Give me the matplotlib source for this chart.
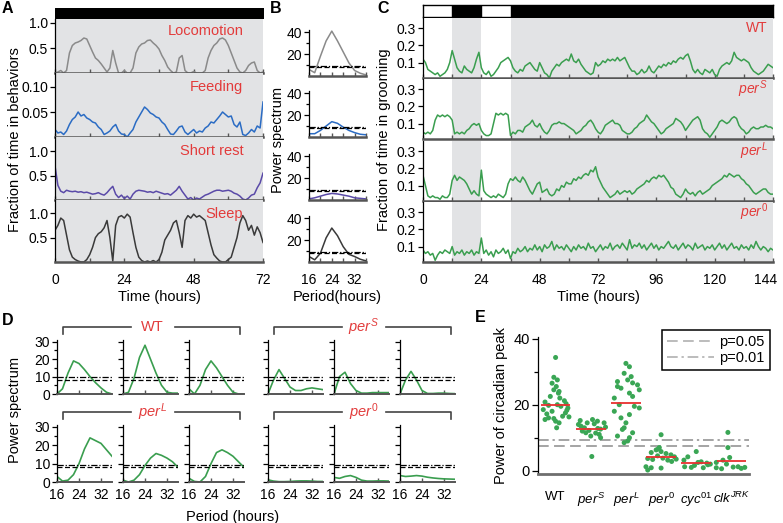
import numpy as np
import matplotlib
matplotlib.use("Agg")
import matplotlib.pyplot as plt
import matplotlib.transforms as mtransforms
from matplotlib.lines import Line2D

# ---------------- data ----------------
# panel A: fraction of time in each behaviour, hourly, 0-72 h
hours_a = np.arange(73)
locomotion = [0.0, 0.02, 0.05, 0.0, 0.05, 0.4, 0.55, 0.6, 0.62, 0.65, 0.7, 0.68,
              0.55, 0.42, 0.3, 0.25, 0.18, 0.1, 0.02, 0.1, 0.45, 0.2, 0.0, 0.0,
              0.05, 0.0, 0.0, 0.1, 0.4, 0.52, 0.58, 0.6, 0.65, 0.66, 0.6, 0.55,
              0.48, 0.35, 0.25, 0.12, 0.05, 0.0, 0.02, 0.3, 0.35, 0.05, 0.0, 0.0,
              0.03, 0.0, 0.0, 0.0, 0.05, 0.3, 0.45, 0.55, 0.6, 0.68, 0.7, 0.66,
              0.55, 0.4, 0.25, 0.1, 0.02, 0.0, 0.05, 0.15, 0.2, 0.22, 0.05, 0.0,
              0.02]
feeding = [0.015, 0.008, 0.01, 0.005, 0.012, 0.025, 0.035, 0.04, 0.05, 0.042, 0.045, 0.038,
           0.035, 0.03, 0.028, 0.02, 0.015, 0.005, 0.008, 0.012, 0.02, 0.025, 0.012, 0.006,
           0.005, 0.0, 0.008, 0.015, 0.03, 0.04, 0.05, 0.06, 0.055, 0.048, 0.045, 0.04,
           0.038, 0.03, 0.025, 0.015, 0.006, 0.005, 0.012, 0.02, 0.022, 0.01, 0.005, 0.01,
           0.015, 0.008, 0.012, 0.01, 0.018, 0.022, 0.03, 0.028, 0.035, 0.042, 0.05, 0.045,
           0.04, 0.042, 0.025, 0.02, 0.03, 0.005, 0.003, 0.008, 0.015, 0.01, 0.022, 0.018,
           0.07]
short_rest = [0.7, 0.3, 0.18, 0.15, 0.2, 0.18, 0.17, 0.18, 0.16, 0.17, 0.15, 0.16,
              0.14, 0.12, 0.13, 0.15, 0.12, 0.1, 0.15, 0.22, 0.28, 0.12, 0.05, 0.1,
              0.03, 0.08, 0.02, 0.12, 0.18, 0.2, 0.19, 0.18, 0.16, 0.17, 0.15, 0.18,
              0.16, 0.14, 0.12, 0.13, 0.1, 0.15, 0.2, 0.28, 0.18, 0.1, 0.02, 0.05,
              0.0, 0.04, 0.02, 0.06, 0.1, 0.12, 0.15, 0.18, 0.2, 0.2, 0.18, 0.19,
              0.2, 0.18, 0.14, 0.12, 0.08, 0.02, 0.0, 0.04, 0.1, 0.12, 0.25, 0.35,
              0.55]
sleep = [0.65, 0.75, 0.9, 0.85, 0.55, 0.25, 0.1, 0.05, 0.02, 0.0, 0.0, 0.05,
         0.15, 0.3, 0.5, 0.58, 0.62, 0.7, 0.85, 0.5, 0.02, 0.75, 0.92, 0.95,
         0.9, 0.98, 0.92, 0.6, 0.3, 0.1, 0.03, 0.0, 0.02, 0.0, 0.03, 0.0,
         0.05, 0.2, 0.45, 0.55, 0.65, 0.8, 0.85, 0.6, 0.3, 0.85, 0.95, 0.9,
         0.98, 0.92, 0.95, 0.9, 0.85, 0.6, 0.35, 0.15, 0.08, 0.02, 0.0, 0.0,
         0.05, 0.1, 0.3, 0.5, 0.8, 0.95, 0.85, 0.65, 0.75, 0.55, 0.72, 0.6,
         0.4]

# panel B: power spectra of the four behaviours
period = [16, 18, 20, 22, 24, 26, 28, 30, 32, 34, 36]
spec_loco = [6, 3, 18, 32, 41, 32, 22, 12, 5, 2.5, 1]
spec_feed = [3, 3, 6, 10, 14, 12.5, 9, 6, 4, 2.5, 2]
spec_rest = [1, 2, 3.5, 5, 6, 5.5, 4.5, 3.5, 2, 1.5, 1]
spec_sleep = [5, 2, 8, 22, 31, 24, 14, 7, 5, 2.5, 1]

# panel C: fraction of time grooming, hourly, 0-144 h
hours_c = np.arange(145)
groom_wt = [0.12, 0.10, 0.06, 0.05, 0.04, 0.03, 0.04, 0.02, 0.03, 0.04, 0.06, 0.10,
            0.17, 0.12, 0.07, 0.05, 0.04, 0.08, 0.06, 0.05, 0.04, 0.07, 0.12, 0.16,
            0.07, 0.04, 0.03, 0.05, 0.02, 0.03, 0.05, 0.07, 0.10, 0.11, 0.12, 0.13,
            0.11, 0.07, 0.05, 0.04, 0.06, 0.05, 0.08, 0.09, 0.10, 0.08, 0.06, 0.05,
            0.10, 0.07, 0.04, 0.03, 0.01, 0.05, 0.07, 0.09, 0.08, 0.10, 0.11, 0.12,
            0.11, 0.15, 0.11, 0.10, 0.12, 0.09, 0.07, 0.05, 0.04, 0.03, 0.04, 0.10,
            0.08, 0.09, 0.11, 0.10, 0.12, 0.11, 0.12, 0.11, 0.13, 0.11, 0.12, 0.13,
            0.10, 0.07, 0.05, 0.05, 0.03, 0.04, 0.06, 0.04, 0.05, 0.08, 0.05, 0.04,
            0.06, 0.08, 0.07, 0.09, 0.08, 0.10, 0.09, 0.11, 0.10, 0.12, 0.13, 0.12,
            0.14, 0.15, 0.11, 0.06, 0.04, 0.06, 0.04, 0.03, 0.06, 0.05, 0.04, 0.06,
            0.03, 0.02, 0.06, 0.08, 0.09, 0.10, 0.09, 0.11, 0.16, 0.13, 0.12, 0.11,
            0.12, 0.11, 0.10, 0.07, 0.05, 0.04, 0.03, 0.04, 0.05, 0.07, 0.09, 0.08,
            0.07]
groom_pers = [0.05, 0.04, 0.05, 0.04, 0.06, 0.12, 0.15, 0.14, 0.15, 0.14, 0.15, 0.14,
              0.12, 0.04, 0.05, 0.04, 0.05, 0.04, 0.06, 0.07, 0.09, 0.10, 0.09, 0.10,
              0.06, 0.04, 0.03, 0.03, 0.04, 0.10, 0.16, 0.15, 0.16, 0.15, 0.16, 0.15,
              0.03, 0.05, 0.04, 0.06, 0.06, 0.05, 0.08, 0.09, 0.10, 0.12, 0.09, 0.08,
              0.10, 0.07, 0.05, 0.04, 0.06, 0.09, 0.10, 0.10, 0.11, 0.10, 0.10, 0.09,
              0.08, 0.07, 0.06, 0.04, 0.05, 0.06, 0.08, 0.09, 0.11, 0.12, 0.10, 0.07,
              0.05, 0.04, 0.06, 0.09, 0.10, 0.11, 0.12, 0.10, 0.10, 0.09, 0.06, 0.05,
              0.04, 0.04, 0.05, 0.07, 0.08, 0.10, 0.11, 0.12, 0.15, 0.13, 0.11, 0.10,
              0.08, 0.06, 0.04, 0.05, 0.07, 0.08, 0.09, 0.10, 0.13, 0.12, 0.11, 0.09,
              0.06, 0.08, 0.10, 0.12, 0.13, 0.14, 0.12, 0.07, 0.05, 0.04, 0.02, 0.04,
              0.06, 0.08, 0.11, 0.12, 0.11, 0.10, 0.11, 0.13, 0.14, 0.13, 0.09, 0.07,
              0.06, 0.04, 0.05, 0.07, 0.08, 0.07, 0.07, 0.08, 0.08, 0.09, 0.08, 0.08,
              0.07]
groom_perl = [0.16, 0.10, 0.04, 0.03, 0.04, 0.03, 0.03, 0.02, 0.04, 0.03, 0.03, 0.05,
              0.13, 0.16, 0.13, 0.15, 0.14, 0.13, 0.11, 0.08, 0.05, 0.07, 0.05, 0.04,
              0.19, 0.07, 0.05, 0.04, 0.03, 0.04, 0.03, 0.05, 0.04, 0.03, 0.05, 0.11,
              0.14, 0.13, 0.15, 0.13, 0.12, 0.15, 0.13, 0.10, 0.07, 0.05, 0.08, 0.11,
              0.12, 0.06, 0.07, 0.08, 0.05, 0.04, 0.05, 0.08, 0.07, 0.10, 0.09, 0.12,
              0.11, 0.11, 0.14, 0.13, 0.15, 0.14, 0.16, 0.17, 0.16, 0.19, 0.18, 0.21,
              0.15, 0.12, 0.09, 0.07, 0.05, 0.03, 0.04, 0.05, 0.07, 0.05, 0.06, 0.07,
              0.06, 0.07, 0.05, 0.06, 0.08, 0.09, 0.10, 0.11, 0.13, 0.12, 0.14, 0.15,
              0.14, 0.16, 0.15, 0.16, 0.14, 0.12, 0.09, 0.08, 0.05, 0.04, 0.03, 0.05,
              0.08, 0.06, 0.05, 0.06, 0.04, 0.06, 0.07, 0.05, 0.06, 0.07, 0.08, 0.10,
              0.11, 0.12, 0.13, 0.14, 0.16, 0.15, 0.17, 0.16, 0.15, 0.16, 0.16, 0.14,
              0.13, 0.11, 0.10, 0.08, 0.06, 0.05, 0.06, 0.07, 0.08, 0.08, 0.06, 0.05,
              0.05]
groom_per0 = [0.08, 0.06, 0.07, 0.05, 0.06, 0.02, 0.05, 0.07, 0.06, 0.08, 0.07, 0.06,
              0.10, 0.05, 0.07, 0.06, 0.08, 0.05, 0.07, 0.06, 0.08, 0.05, 0.07, 0.06,
              0.15, 0.06, 0.08, 0.05, 0.07, 0.04, 0.08, 0.06, 0.07, 0.09, 0.06, 0.08,
              0.03, 0.07, 0.06, 0.09, 0.07, 0.08, 0.10, 0.07, 0.09, 0.08, 0.11, 0.08,
              0.10, 0.07, 0.11, 0.09, 0.10, 0.13, 0.08, 0.11, 0.09, 0.10, 0.08, 0.11,
              0.09, 0.07, 0.10, 0.08, 0.11, 0.09, 0.10, 0.08, 0.12, 0.09, 0.10, 0.07,
              0.09, 0.11, 0.08, 0.10, 0.09, 0.12, 0.08, 0.10, 0.11, 0.09, 0.12, 0.10,
              0.08, 0.14, 0.09, 0.11, 0.10, 0.12, 0.09, 0.11, 0.08, 0.10, 0.12, 0.09,
              0.11, 0.08, 0.10, 0.09, 0.11, 0.13, 0.10, 0.09, 0.11, 0.08, 0.10, 0.12,
              0.09, 0.11, 0.10, 0.08, 0.12, 0.09, 0.10, 0.11, 0.08, 0.10, 0.09, 0.11,
              0.08, 0.10, 0.12, 0.09, 0.11, 0.08, 0.10, 0.12, 0.09, 0.10, 0.08, 0.11,
              0.09, 0.10, 0.08, 0.11, 0.09, 0.13, 0.10, 0.08, 0.10, 0.09, 0.07, 0.09,
              0.08]
dark_spans_c = [(12, 24), (36, 144)]

# panel D: grooming power spectra of single flies
spec_wt = [[0, 3, 12, 19, 17.5, 14, 10, 6.5, 3.5, 1, 0],
           [0, 1, 9, 21, 28, 20, 12, 5, 1, 0.5, 0.5],
           [3, 0, 5, 14, 19, 15, 10, 5, 1, 0, 0]]
spec_pers = [[0, 8, 14, 9, 4, 2, 2, 3, 3.5, 3, 2.5],
             [0, 10, 12.5, 6, 2, 0.5, 0.5, 0.8, 0.8, 0.8, 0.8],
             [0, 8, 13, 8, 2, 0.3, 0.3, 0.5, 0.5, 0.3, 0.2]]
spec_perl = [[3, 0.5, 1, 4, 10, 18, 24, 22.5, 21, 17.5, 14],
             [1, 0, 1, 4, 9, 13, 15.5, 14.5, 13, 11, 8],
             [2, 0.3, 0, 3, 10, 16, 17.5, 16, 14, 11, 8]]
spec_per0 = [[1.2, 0.5, 0.2, 0.2, 0.3, 0.5, 0.6, 0.6, 0.5, 0.3, 0.3],
             [2.5, 2, 3, 3.5, 2.5, 1, 0.5, 0.5, 0.6, 0.6, 0.5],
             [3.5, 3, 3.2, 3.5, 3.2, 2.6, 2.2, 1.9, 1.7, 1.6, 1.5]]
sig_01 = 9.5
sig_05 = 8.0

# panel E: power of circadian peak per fly
genotypes = ['WT', r'$per^{S}$', r'$per^{L}$', r'$per^{\mathit{0}}$',
             r'$cyc^{\mathit{01}}$', r'$clk^{JRK}$']
e_wt = [34.3, 28.3, 27.5, 26.5, 25.5, 24.5, 23.5, 22.5, 22.0, 21.2, 20.8, 20.3, 20.0,
        19.8, 19.5, 19.0, 18.5, 18.0, 17.5, 17.2, 16.5, 16.0, 15.8, 15.5, 15.0, 14.5,
        16.3, 18.3, 13.0, 24.0]
e_wt_dx = [0.0, -0.05, 0.05, -0.1, 0.02, -0.05, 0.08, -0.15, 0.12, 0.25, -0.3, 0.3, 0.05,
           -0.2, 0.15, 0.35, -0.35, -0.1, 0.28, -0.25, 0.2, -0.2, -0.05, -0.3, 0.0, 0.1,
           0.38, 0.32, 0.03, 0.1]
e_pers = [15.2, 14.0, 13.5, 14.5, 15.5, 14.2, 15.0, 14.5, 13.2, 12.0, 11.5, 12.2, 11.4,
          11.0, 12.6, 10.5, 10.0, 13.0, 12.8, 4.3]
e_pers_dx = [-0.3, -0.35, -0.28, -0.1, 0.05, 0.1, 0.19, 0.38, 0.42, -0.24, -0.14, -0.05,
             0.14, 0.24, 0.28, 0.0, 0.28, -0.18, 0.2, 0.03]
e_perl = [32.5, 31.5, 29.5, 28.5, 27.5, 27.0, 26.6, 26.0, 25.5, 25.0, 24.5, 23.5, 22.5,
          22.0, 20.0, 19.5, 19.0, 18.0, 17.0, 16.0, 14.5, 13.0, 12.5, 11.5, 10.5, 10.0,
          9.0, 8.5]
e_perl_dx = [0.0, 0.1, -0.05, 0.15, 0.05, -0.24, 0.19, 0.33, -0.24, -0.14, 0.38, 0.1, 0.19,
             -0.33, -0.19, 0.24, 0.38, -0.33, 0.1, -0.14, 0.0, -0.05, -0.1, 0.19, -0.24,
             0.1, 0.05, -0.05]
e_per0 = [10.9, 7.0, 6.3, 5.8, 5.5, 5.2, 4.8, 4.2, 3.7, 3.4, 3.8, 3.2, 3.5, 2.8, 1.2, 0.9,
          0.8, 0.2, 4.5, 6.6]
e_per0_dx = [0.0, -0.05, -0.14, 0.0, -0.28, 0.14, 0.28, 0.38, -0.38, -0.24, 0.05, 0.19,
             0.43, 0.3, -0.43, -0.28, 0.0, -0.38, -0.1, -0.08]
e_cyc = [5.8, 4.2, 3.2, 2.7, 2.3, 2.0, 1.6, 1.2, 1.0, 0.9, 1.8, 2.5]
e_cyc_dx = [0.0, -0.24, -0.35, 0.14, 0.3, 0.4, -0.05, -0.33, -0.14, 0.2, 0.33, 0.05]
e_clk = [11.6, 7.0, 4.0, 3.2, 2.5, 0.9, 0.6, 1.1, 1.2, 0.7, 1.0, 2.0]
e_clk_dx = [-0.1, -0.1, -0.05, -0.24, -0.43, -0.43, -0.28, 0.05, 0.19, 0.28, 0.38, -0.14]
e_median = [20.0, 12.5, 20.5, 4.0, 2.2, 2.8]
e_sig_05 = 7.4
e_sig_01 = 9.3

# ---------------- style ----------------
plt.rcParams['font.family'] = ['Liberation Sans', 'DejaVu Sans']
plt.rcParams['mathtext.fontset'] = 'custom'
plt.rcParams['mathtext.rm'] = 'Liberation Sans'
plt.rcParams['mathtext.it'] = 'Liberation Sans:italic'
plt.rcParams['mathtext.bf'] = 'Liberation Sans:bold'
plt.rcParams['font.size'] = 10

RED = '#e23b3b'
GREEN = '#3a9e4f'
BG = '#e2e3e5'
AXGRAY = '#555555'
DASH = (0, (4, 2))
DASHDOT = (0, (5, 1.5, 1, 1.5))

W, H = 783, 523
fig = plt.figure(figsize=(W / 100, H / 100), dpi=100)


def ax_px(x0, y0, x1, y1):
    # axes from pixel box (origin top-left)
    return fig.add_axes([x0 / W, 1 - y1 / H, (x1 - x0) / W, (y1 - y0) / H])


def style(ax, xlabels=False, xpad=8):
    ax.spines['top'].set_visible(False)
    ax.spines['right'].set_visible(False)
    ax.spines['bottom'].set_color(AXGRAY)
    ax.spines['bottom'].set_linewidth(1.8)
    ax.spines['left'].set_linewidth(0.9)
    ax.tick_params(axis='x', which='both', direction='in', length=3, width=1,
                   color=AXGRAY, labelbottom=xlabels, pad=xpad)
    ax.tick_params(axis='y', which='both', direction='out', length=3.5,
                   width=0.9, pad=1.5)


# ---------------- panel A ----------------
bar = ax_px(55, 8, 264, 19)
bar.axvspan(0, 72, color='black')
bar.set_xlim(0, 72)
bar.axis('off')

a_series = [locomotion, feeding, short_rest, sleep]
a_names = ['Locomotion', 'Feeding', 'Short rest', 'Sleep']
a_colors = ['#8a8a8a', '#2b6cc4', '#5a4aa8', '#3a3a3a']
a_rows = [(19, 73), (73, 137), (137, 200), (200, 262)]
a_ytop = [1.08, 0.128, 1.29, 1.27]
a_ticks = [[0.5, 1.0], [0.05, 0.10], [0.5, 1.0], [0.5, 1.0]]
a_tlabels = [['0.5', '1.0'], ['0.05', '0.10'], ['0.5', '1.0'], ['0.5', '1.0']]
a_axes = []
for i in range(4):
    ax = ax_px(55, a_rows[i][0], 263, a_rows[i][1])
    ax.set_facecolor(BG)
    ax.plot(hours_a, a_series[i], color=a_colors[i], lw=1.1)
    ax.set_xlim(0, 72)
    ax.set_ylim(0, a_ytop[i])
    ax.set_yticks(a_ticks[i])
    ax.set_yticklabels(a_tlabels[i])
    ax.set_xticks([0, 24, 48, 72])
    ax.set_xticks([12, 36, 60], minor=True)
    style(ax, xlabels=(i == 3))
    ax.text(0.905, 0.78, a_names[i], transform=ax.transAxes, ha='right',
            va='center', color=RED, fontsize=10.5)
    a_axes.append(ax)
a_axes[3].set_xlabel('Time (hours)', fontsize=10.5, labelpad=2)
fig.text(15 / W, 1 - 140 / H, 'Fraction of time in behaviors', rotation=90,
         ha='center', va='center', fontsize=10.5)

# ---------------- panel B ----------------
b_series = [spec_loco, spec_feed, spec_rest, spec_sleep]
b_bottoms = [76, 137, 200, 262]
for i in range(4):
    ax = ax_px(309, b_bottoms[i] - 46, 366, b_bottoms[i])
    ax.plot(period, b_series[i], color=a_colors[i], lw=1.1)
    ax.axhline(sig_01, color='black', lw=0.9, ls=DASHDOT)
    ax.axhline(sig_05, color='black', lw=0.9, ls=DASH)
    ax.set_xlim(16, 36)
    ax.set_ylim(0, 42)
    ax.set_yticks([20, 40])
    ax.set_yticks([10, 30], minor=True)
    ax.set_xticks([16, 24, 32])
    ax.set_xticks([20, 28, 36], minor=True)
    style(ax, xlabels=(i == 3))
    ax.tick_params(axis='y', which='minor', length=2)
    if i == 3:
        ax.set_xlabel('Period(hours)', fontsize=10.5, labelpad=2)
fig.text(278 / W, 1 - 140 / H, 'Power spectrum', rotation=90,
         ha='center', va='center', fontsize=10.5)

# ---------------- panel C ----------------
cbar = ax_px(423, 5, 773, 17)
cbar.set_xlim(0, 144)
for s0, s1 in dark_spans_c:
    cbar.axvspan(s0, s1, color='black')
cbar.set_xticks([])
cbar.set_yticks([])
for sp in cbar.spines.values():
    sp.set_linewidth(1.0)

c_series = [groom_wt, groom_pers, groom_perl, groom_per0]
c_names = ['WT', r'$per^{S}$', r'$per^{L}$', r'$per^{\mathit{0}}$']
c_bottoms = [78, 139, 201, 262]
c_axes = []
for i in range(4):
    ax = ax_px(423, c_bottoms[i] - 60, 773, c_bottoms[i])
    for s0, s1 in dark_spans_c:
        ax.axvspan(s0, s1, color=BG, lw=0)
    ax.plot(hours_c, c_series[i], color=GREEN, lw=1.1)
    ax.set_xlim(0, 144)
    ax.set_ylim(0.01, 0.36)
    ax.set_yticks([0.1, 0.2, 0.3])
    ax.set_yticklabels(['0.1', '0.2', '0.3'])
    ax.set_xticks(np.arange(0, 145, 24))
    ax.set_xticks(np.arange(12, 145, 24), minor=True)
    style(ax, xlabels=(i == 3))
    ax.text(0.985, 0.83, c_names[i], transform=ax.transAxes, ha='right',
            va='center', color=RED, fontsize=10)
    c_axes.append(ax)
c_axes[3].set_xlabel('Time (hours)', fontsize=10.5, labelpad=2)
# keep the last tick label ("144") inside the canvas
last_lab = c_axes[3].get_xticklabels()[-1]
last_lab.set_transform(last_lab.get_transform() +
                       mtransforms.ScaledTranslation(-5 / 72, 0, fig.dpi_scale_trans))
fig.text(384 / W, 1 - 140 / H, 'Fraction of time in grooming', rotation=90,
         ha='center', va='center', fontsize=10.5)

# ---------------- panel D ----------------
d_x = [57, 123, 189, 268, 334, 400]
d_rows = [(340, 394), (425, 482)]
d_groups = [[spec_wt, spec_pers], [spec_perl, spec_per0]]
for r in range(2):
    for g in range(2):
        for k in range(3):
            x0 = d_x[g * 3 + k]
            ax = ax_px(x0, d_rows[r][0], x0 + 55, d_rows[r][1])
            ax.plot(period, d_groups[r][g][k], color=GREEN, lw=1.2)
            ax.axhline(sig_01, color='black', lw=0.9, ls=DASHDOT)
            ax.axhline(sig_05, color='black', lw=0.9, ls=DASH)
            ax.set_xlim(16, 36)
            ax.set_ylim(0, 31)
            ax.set_yticks([0, 10, 20, 30])
            ax.set_yticks([5, 15, 25], minor=True)
            ax.set_xticks([16, 24, 32])
            style(ax, xlabels=(r == 1), xpad=4)
            ax.spines['bottom'].set_linewidth(1.4)
            ax.tick_params(axis='y', which='minor', length=2)
            if g * 3 + k != 0:
                ax.tick_params(axis='y', labelleft=False)
            if r == 1 and g == 0 and k == 1:
                ax.set_xlabel('Period (hours)', fontsize=10.5)
                ax.xaxis.set_label_coords(2.0, -0.5)
fig.text(15 / W, 1 - 410 / H, 'Power spectrum', rotation=90,
         ha='center', va='center', fontsize=10.5)

# ---------------- panel E ----------------
axe = ax_px(538, 337, 749, 474)
e_vals = [e_wt, e_pers, e_perl, e_per0, e_cyc, e_clk]
e_dx = [e_wt_dx, e_pers_dx, e_perl_dx, e_per0_dx, e_cyc_dx, e_clk_dx]
axe.axhline(e_sig_01, color='#8c8c8c', lw=1.1, ls=(0, (7, 2.5, 1.5, 2.5)))
axe.axhline(e_sig_05, color='#8c8c8c', lw=1.1, ls=(0, (7, 3.5)))
for i in range(6):
    axe.scatter(np.array(e_dx[i]) + i, e_vals[i], s=13, color='#3aa655',
                edgecolors='none', zorder=3)
    axe.hlines(e_median[i], i - 0.42, i + 0.42, color='#e8302f', lw=1.3, zorder=4)
axe.set_xlim(-0.5, 5.5)
axe.set_ylim(-1, 40.5)
axe.set_yticks([0, 20, 40])
axe.set_yticks([10, 30], minor=True)
axe.set_xticks(range(6))
axe.set_xticklabels(genotypes, fontsize=9.5)
axe.spines['top'].set_visible(False)
axe.spines['right'].set_visible(False)
axe.spines['bottom'].set_color('#6e6e6e')
axe.spines['bottom'].set_linewidth(2.0)
axe.spines['left'].set_linewidth(0.9)
axe.tick_params(axis='x', length=0, pad=12)
axe.tick_params(axis='y', which='both', direction='out', length=4, width=0.9,
                pad=2, labelsize=10.5)
axe.tick_params(axis='y', which='minor', length=3)
axe.set_ylabel('Power of circadian peak', fontsize=10.5, labelpad=4)

handles = [Line2D([], [], color='#aaaaaa', lw=1.1, ls=(0, (7, 3.5))),
           Line2D([], [], color='#aaaaaa', lw=1.1, ls=(0, (7, 2.5, 1.5, 2.5)))]
leg = fig.legend(handles, ['p=0.05', 'p=0.01'], loc='upper right',
                 bbox_to_anchor=(770 / W, 1 - 330 / H), fancybox=False,
                 edgecolor='black', framealpha=1, fontsize=10.5,
                 handlelength=3.2, handletextpad=0.4, labelspacing=0.15,
                 borderpad=0.35, borderaxespad=0)
leg.get_frame().set_linewidth(1.1)

# ---------------- overlay: panel letters and brackets ----------------
ov = fig.add_axes([0, 0, 1, 1])
ov.set_xlim(0, W)
ov.set_ylim(H, 0)
ov.axis('off')
for letter, lx, ly in [('A', 2, 1), ('B', 270, 1), ('C', 377, 1),
                       ('D', 2, 313), ('E', 475, 310)]:
    ov.text(lx, ly, letter, fontsize=11.5, fontweight='bold', va='top', ha='left')

bracket_names = [['WT', r'$per^{S}$'], [r'$per^{L}$', r'$per^{\mathit{0}}$']]
for r in range(2):
    yb = d_rows[r][0] - 13
    for g in range(2):
        xa = d_x[g * 3] + 6
        xb = d_x[g * 3 + 2] + 51
        xc = (xa + xb) / 2 + 1
        ov.plot([xa, xa, xc - 22], [yb + 7, yb, yb], color='#444444', lw=1.2)
        ov.plot([xc + 22, xb, xb], [yb, yb, yb + 7], color='#444444', lw=1.2)
        ov.text(xc, yb, bracket_names[r][g], color=RED, fontsize=10.5,
                ha='center', va='center')

fig.savefig('out.png', dpi=100)
